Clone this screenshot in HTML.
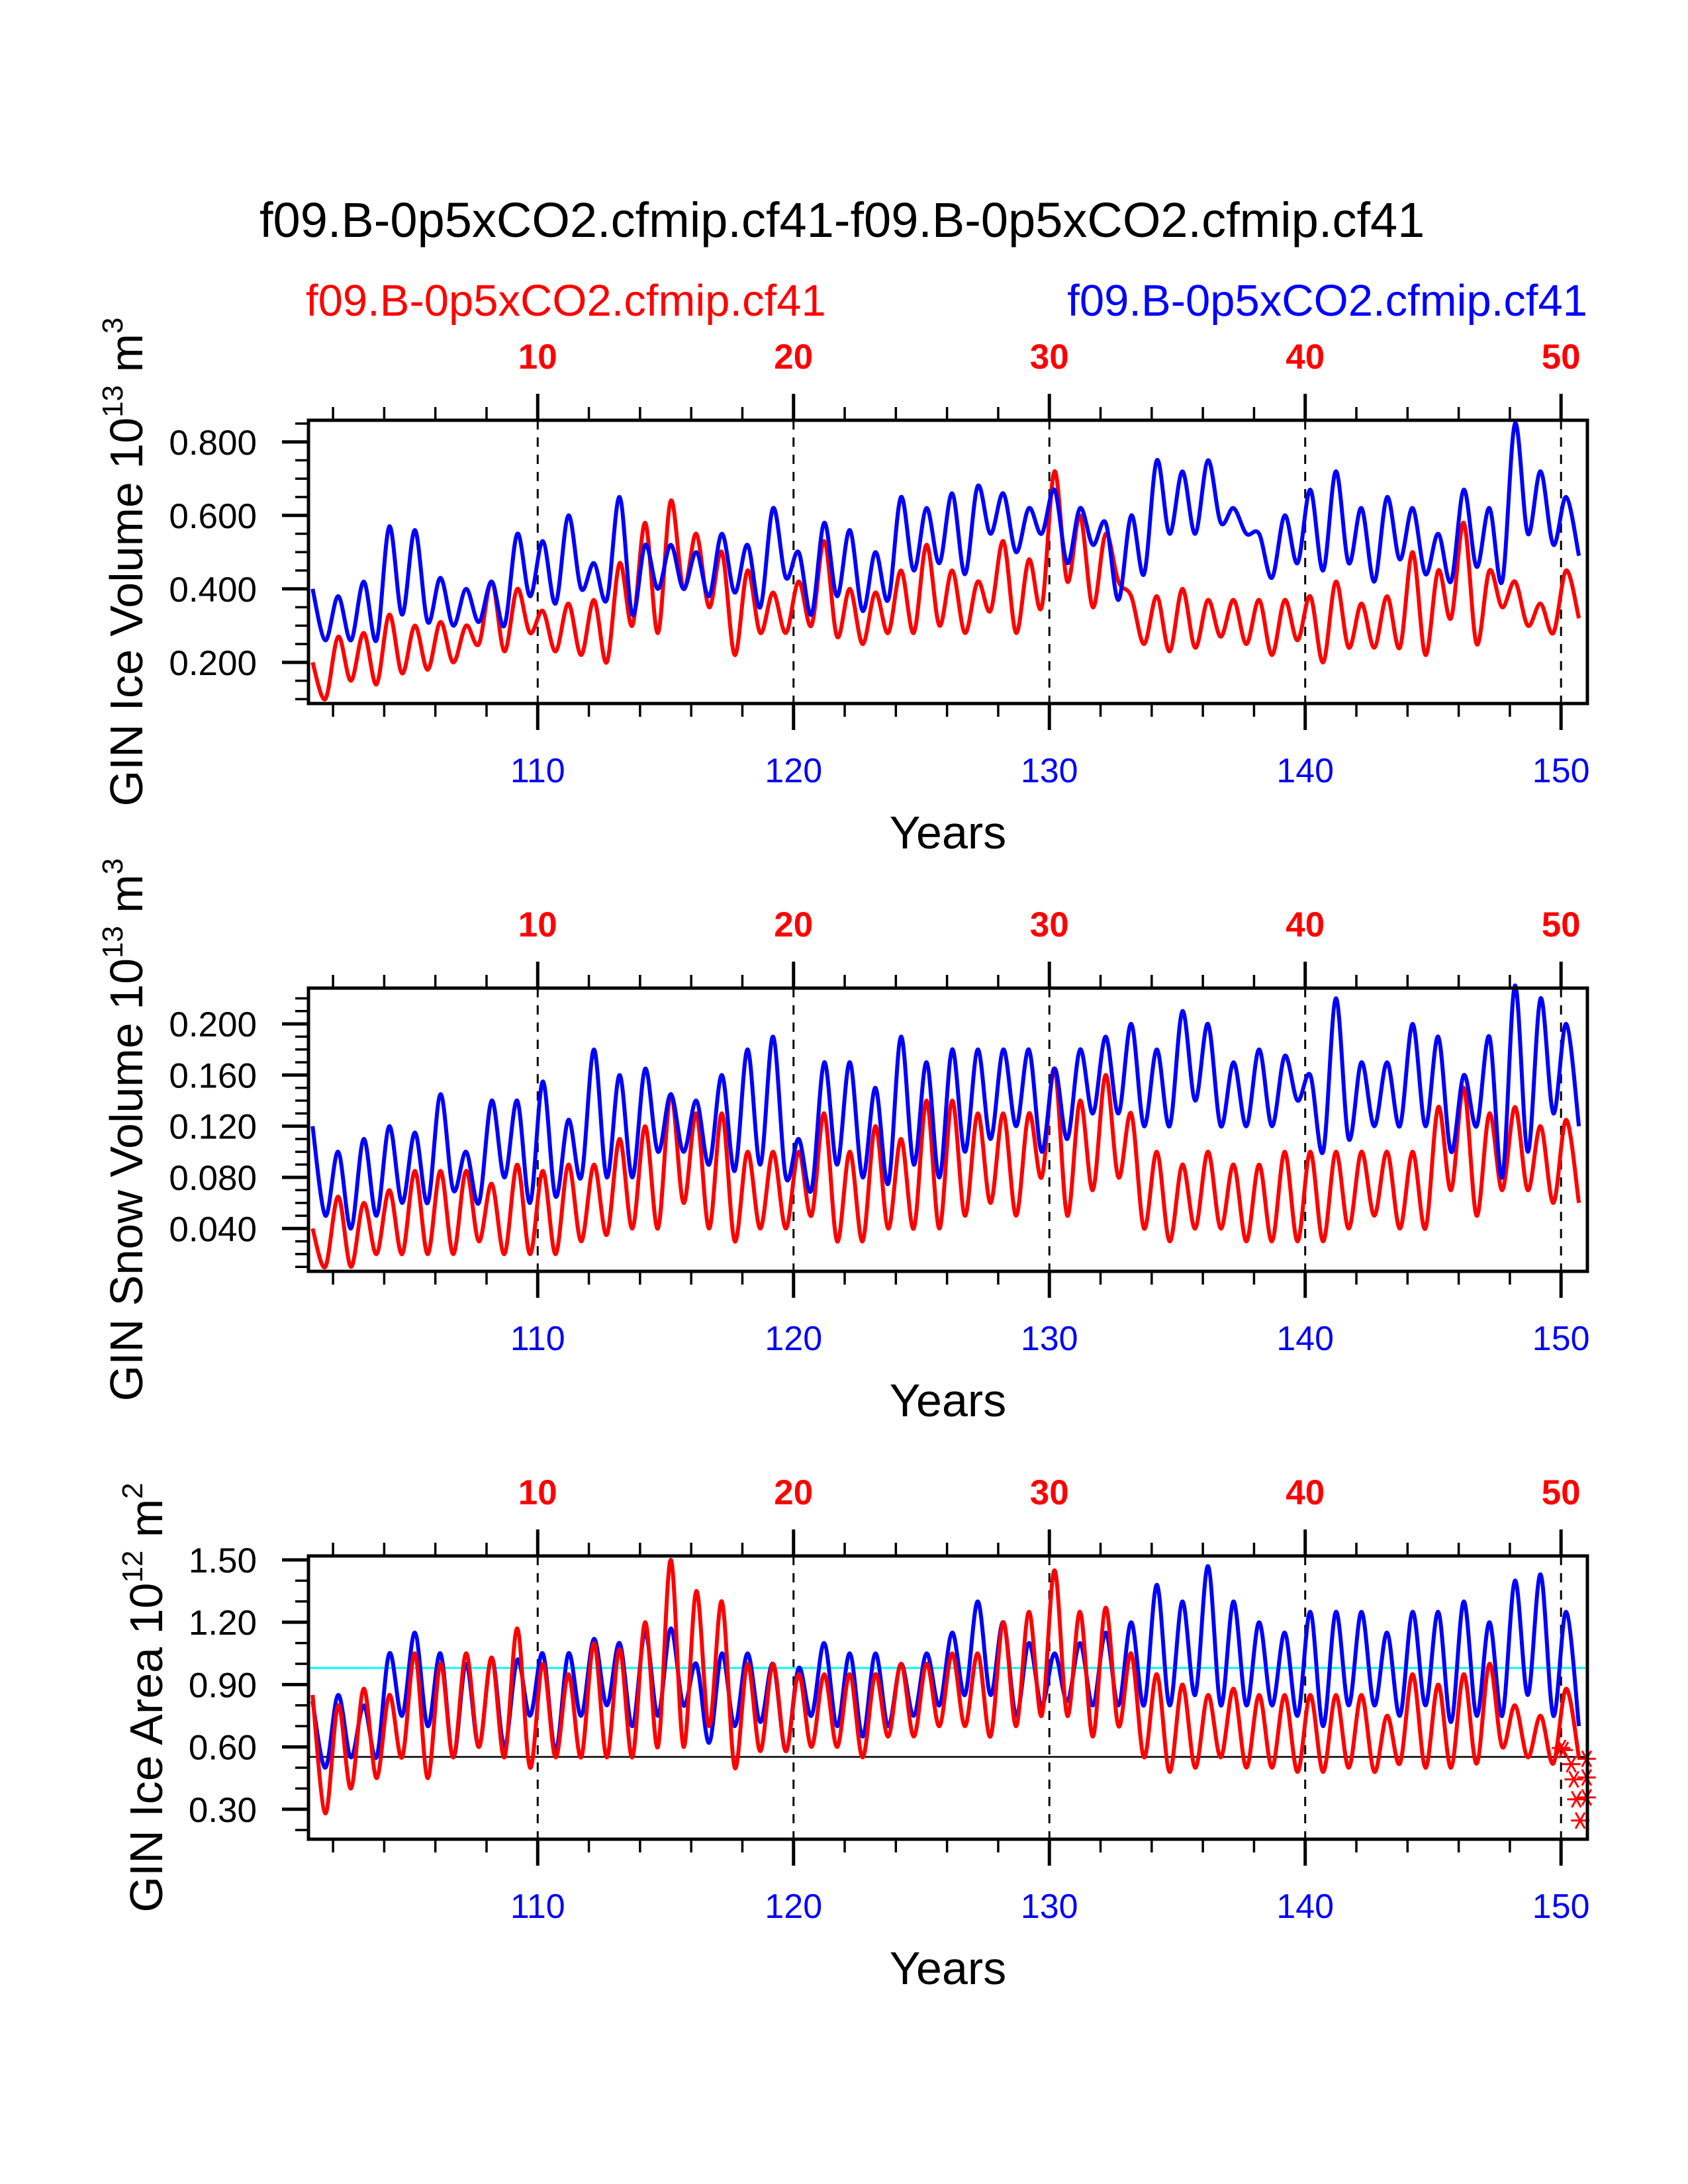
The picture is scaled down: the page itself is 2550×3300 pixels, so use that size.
<!DOCTYPE html>
<html><head><meta charset="utf-8"><style>
html,body{margin:0;padding:0;background:#fff;}
svg{display:block;font-family:"Liberation Sans",Arial,sans-serif;}
</style></head><body>
<svg id="chart" width="2550" height="3300" viewBox="0 0 2550 3300" xmlns="http://www.w3.org/2000/svg">
<rect width="2550" height="3300" fill="#fff"/>
<text x="392" y="358" font-size="74" fill="#000">f09.B-0p5xCO2.cfmip.cf41-f09.B-0p5xCO2.cfmip.cf41</text>
<text x="462" y="477" font-size="67" fill="#ff0000">f09.B-0p5xCO2.cfmip.cf41</text>
<text x="2398" y="477" font-size="67" fill="#0000ff" text-anchor="end">f09.B-0p5xCO2.cfmip.cf41</text>
<g id="plots"></g>
</svg>
<script>
// ---- data (yearly max / min), years 101..150 ----
const years = [];
for (let y = 101; y <= 150; y++) years.push(y);

const volBlueMax = [.40,.38,.42,.57,.56,.43,.40,.42,.55,.53,.60,.47,.65,.52,.52,.50,.55,.52,.62,.50,.58,.56,.50,.65,.62,.66,.68,.66,.62,.67,.62,.58,.60,.75,.72,.75,.62,.55,.60,.67,.72,.62,.65,.62,.55,.67,.62,.85,.72,.65];
const volBlueMin = [.26,.26,.26,.33,.31,.30,.31,.30,.38,.36,.40,.37,.33,.40,.40,.38,.39,.35,.43,.33,.38,.34,.37,.45,.47,.44,.55,.50,.55,.47,.52,.37,.44,.55,.55,.58,.55,.43,.47,.45,.47,.42,.48,.44,.42,.46,.42,.55,.52,.49];
const volRedMax = [.20,.27,.28,.33,.30,.31,.30,.42,.40,.34,.36,.37,.47,.58,.64,.55,.50,.45,.39,.42,.53,.40,.39,.45,.52,.45,.42,.53,.48,.72,.60,.55,.38,.38,.40,.37,.37,.37,.37,.38,.42,.36,.38,.50,.45,.58,.45,.42,.36,.45];
const volRedMin = [.10,.15,.14,.17,.18,.20,.25,.23,.28,.23,.22,.20,.30,.28,.40,.35,.22,.28,.28,.30,.27,.25,.28,.28,.30,.28,.34,.28,.35,.42,.35,.42,.25,.23,.24,.27,.25,.22,.26,.20,.24,.24,.24,.22,.32,.25,.35,.30,.28,.32];

const snowBlueMax = [.12,.10,.11,.12,.115,.145,.10,.14,.14,.155,.125,.18,.16,.165,.145,.14,.16,.18,.19,.11,.17,.17,.15,.19,.17,.18,.18,.18,.18,.165,.18,.19,.20,.18,.21,.20,.17,.18,.175,.16,.22,.17,.17,.20,.19,.16,.19,.23,.22,.20];
const snowBlueMin = [.05,.04,.05,.06,.06,.07,.06,.08,.06,.065,.08,.08,.08,.10,.10,.09,.085,.09,.08,.07,.09,.08,.075,.09,.08,.10,.11,.12,.10,.11,.13,.13,.12,.12,.14,.12,.12,.12,.14,.10,.11,.12,.12,.12,.10,.12,.08,.10,.13,.12];
const snowRedMax = [.04,.065,.06,.07,.085,.085,.085,.075,.09,.085,.09,.09,.11,.12,.145,.13,.13,.10,.10,.10,.13,.10,.12,.11,.14,.14,.13,.13,.13,.165,.14,.16,.13,.10,.09,.10,.09,.09,.10,.10,.10,.10,.10,.10,.135,.15,.13,.135,.12,.125];
const snowRedMin = [.01,.01,.02,.02,.02,.02,.03,.02,.02,.02,.03,.035,.04,.04,.06,.04,.03,.04,.04,.05,.03,.03,.04,.04,.04,.05,.06,.05,.08,.05,.07,.08,.04,.03,.04,.04,.03,.03,.03,.03,.04,.05,.04,.04,.07,.05,.07,.07,.06,.06];

const areaBlueMax = [.82,.85,.80,1.05,1.15,1.05,1.00,1.03,1.02,1.05,1.05,1.12,1.10,1.15,1.17,1.00,1.05,1.05,1.00,.98,1.10,1.05,1.05,1.00,1.05,1.15,1.30,1.20,1.10,1.05,1.10,1.15,1.20,1.38,1.30,1.47,1.30,1.20,1.15,1.25,1.25,1.25,1.15,1.25,1.25,1.30,1.20,1.40,1.43,1.25];
const areaBlueMin = [.50,.55,.55,.75,.70,.55,.60,.60,.75,.58,.75,.80,.70,.75,.80,.62,.70,.72,.58,.75,.70,.65,.70,.75,.80,.85,.85,.75,.80,.82,.80,.80,.80,.80,.85,.80,.80,.80,.75,.70,.80,.80,.75,.80,.72,.75,.75,.85,.75,.70];
const areaRedMax = [.85,.80,.88,.85,1.05,1.00,1.05,1.03,1.17,1.00,.95,1.10,1.07,1.20,1.50,1.35,1.30,1.00,1.00,.95,.95,.95,.95,1.00,1.00,1.05,1.05,1.20,1.25,1.45,1.25,1.27,1.05,.95,.90,.85,.88,.85,.85,.85,.85,.85,.75,.95,.90,.95,1.00,.80,.75,.88];
const areaRedMin = [.28,.40,.45,.55,.45,.55,.60,.55,.50,.55,.55,.55,.55,.60,.60,.70,.50,.58,.58,.60,.60,.55,.65,.65,.70,.70,.65,.70,.75,.75,.65,.70,.55,.48,.50,.55,.50,.50,.48,.48,.50,.48,.52,.50,.50,.52,.60,.55,.52,.55];

const areaCyanRef = 0.98;
const areaBlackRef = 0.552;
const starYears = [150.0,150.1,150.4,150.5,150.6,150.75,151.0,151.0,151.0];
const starValues = [0.595,0.585,0.517,0.444,0.348,0.246,0.543,0.453,0.357];

const topTickLabels = ["10","20","30","40","50"];
const bottomTickLabels = ["110","120","130","140","150"];
const majorYears = [110,120,130,140,150];

// ---- layout ----
const X0 = 466, X1 = 2398, XMIN = 101.04, XMAX = 151.03;
const xs = v => X0 + (v - XMIN) / (XMAX - XMIN) * (X1 - X0);
const NS = "http://www.w3.org/2000/svg";
const root = document.getElementById('plots');
function mk(tag, attrs, parent) {
  const e = document.createElementNS(NS, tag);
  for (const k in attrs) e.setAttribute(k, attrs[k]);
  (parent || root).appendChild(e);
  return e;
}
function smoothPath(pts) {
  let d = `M${pts[0][0].toFixed(1)},${pts[0][1].toFixed(1)}`;
  for (let i = 0; i < pts.length - 1; i++) {
    const p0 = pts[i - 1] || pts[i], p1 = pts[i], p2 = pts[i + 1], p3 = pts[i + 2] || p2;
    const c1x = p1[0] + (p2[0] - p0[0]) / 6, c1y = p1[1] + (p2[1] - p0[1]) / 6;
    const c2x = p2[0] - (p3[0] - p1[0]) / 6, c2y = p2[1] - (p3[1] - p1[1]) / 6;
    d += `C${c1x.toFixed(1)},${c1y.toFixed(1)} ${c2x.toFixed(1)},${c2y.toFixed(1)} ${p2[0].toFixed(1)},${p2[1].toFixed(1)}`;
  }
  return d;
}

const panels = [
  {name:'ice-volume', top:635, vmin:0.088, vmax:0.859, ticks:[0.2,0.4,0.6,0.8], labels:["0.200","0.400","0.600","0.800"], minorStep:0.05,
   title:'GIN Ice Volume 10', sup:'13', unit:' m', unitSup:'3', titleX:215,
   series:[[volRedMax,volRedMin,'#ff0000','red'],[volBlueMax,volBlueMin,'#0000ff','blue']]},
  {name:'snow-volume', top:1493, vmin:0.0065, vmax:0.228, ticks:[0.04,0.08,0.12,0.16,0.2], labels:["0.040","0.080","0.120","0.160","0.200"], minorStep:0.01,
   title:'GIN Snow Volume 10', sup:'13', unit:' m', unitSup:'3', titleX:215,
   series:[[snowRedMax,snowRedMin,'#ff0000','red'],[snowBlueMax,snowBlueMin,'#0000ff','blue']]},
  {name:'ice-area', top:2351, vmin:0.156, vmax:1.519, ticks:[0.3,0.6,0.9,1.2,1.5], labels:["0.30","0.60","0.90","1.20","1.50"], minorStep:0.1,
   title:'GIN Ice Area 10', sup:'12', unit:' m', unitSup:'2', titleX:245,
   series:[[areaBlueMax,areaBlueMin,'#0000ff','blue'],[areaRedMax,areaRedMin,'#ff0000','red']]}
];
const H = 428;

panels.forEach((p, pi) => {
  const Y0 = p.top, Y1 = p.top + H;
  const ys = v => Y1 - (v - p.vmin) / (p.vmax - p.vmin) * H;
  const g = mk('g', {});
  
  

  majorYears.forEach(yr => {
    const l = mk('line', {x1:xs(yr), x2:xs(yr), y1:Y0, y2:Y1, stroke:'#000', 'stroke-width':3, 'stroke-dasharray':'14 12'}, g);
    
    
  });

  if (pi === 2) {
    const c = mk('line', {x1:X0, x2:X1, y1:ys(areaCyanRef), y2:ys(areaCyanRef), stroke:'#00ffff', 'stroke-width':3}, g);
    
    
    const b = mk('line', {x1:X0, x2:X1, y1:ys(areaBlackRef), y2:ys(areaBlackRef), stroke:'#000', 'stroke-width':2.5}, g);
    
    
  }

  p.series.forEach(([mx, mn, col, nm]) => {
    const pts = [];
    years.forEach((yr, i) => {
      pts.push([xs(yr + 0.2), ys(mx[i])]);
      pts.push([xs(yr + 0.7), ys(mn[i])]);
    });
    const path = mk('path', {d:smoothPath(pts), fill:'none', stroke:col, 'stroke-width':6, 'stroke-linejoin':'round'}, g);
    
    
  });

  if (pi === 2) {
    starYears.forEach((yr, i) => {
      const cx = xs(yr), cy = ys(starValues[i]), r = 14;
      const s = mk('g', {stroke:'#ff0000', 'stroke-width':3}, g);
      
      
      [0,60,120].forEach(a => {
        const t = a * Math.PI / 180;
        mk('line', {x1:cx - r*Math.cos(t), y1:cy - r*Math.sin(t), x2:cx + r*Math.cos(t), y2:cy + r*Math.sin(t)}, s);
      });
    });
  }

  const fr = mk('rect', {x:X0, y:Y0, width:X1-X0, height:H, fill:'none', stroke:'#000', 'stroke-width':5}, g);
  
  

  for (let yr = 102; yr <= 150; yr += 2) {
    const major = yr % 10 === 0;
    const len = major ? 40 : 20;
    mk('line', {x1:xs(yr), x2:xs(yr), y1:Y0, y2:Y0-len, stroke:'#000', 'stroke-width':major?5:3.5}, g);
    mk('line', {x1:xs(yr), x2:xs(yr), y1:Y1, y2:Y1+len, stroke:'#000', 'stroke-width':major?5:3.5}, g);
  }
  majorYears.forEach((yr, i) => {
    const t = mk('text', {x:xs(yr), y:Y0-78, 'font-size':53, 'font-weight':'bold', fill:'#ff0000', 'text-anchor':'middle'}, g);
    t.textContent = topTickLabels[i];
    
    
    const b = mk('text', {x:xs(yr), y:Y1+119, 'font-size':52, fill:'#0000ff', 'text-anchor':'middle'}, g);
    b.textContent = bottomTickLabels[i];
    
    
  });
  const xt = mk('text', {x:1432, y:Y1+219, 'font-size':70, fill:'#000', 'text-anchor':'middle'}, g);
  xt.textContent = 'Years';
  
  

  const start = Math.ceil(p.vmin / p.minorStep - 1e-6);
  for (let k = start; k * p.minorStep <= p.vmax + 1e-9; k++) {
    const v = k * p.minorStep;
    const major = p.ticks.some(t => Math.abs(t - v) < 1e-6);
    mk('line', {x1:X0, x2:X0 - (major?40:20), y1:ys(v), y2:ys(v), stroke:'#000', 'stroke-width':major?5:3.5}, g);
  }
  p.ticks.forEach((v, i) => {
    const t = mk('text', {x:388, y:ys(v)+19, 'font-size':53, fill:'#000', 'text-anchor':'end'}, g);
    t.textContent = p.labels[i];
    
    
  });

  const cy = Y0 + H/2;
  const yt = mk('text', {x:0, y:0, 'font-size':70, fill:'#000', 'text-anchor':'middle', transform:`translate(${p.titleX},${cy}) rotate(-90)`}, g);
  
  
  const s1 = mk('tspan', {}, yt); s1.textContent = p.title;
  const s2 = mk('tspan', {dy:-30, 'font-size':44}, yt); s2.textContent = p.sup;
  const s3 = mk('tspan', {dy:30}, yt); s3.textContent = p.unit;
  const s4 = mk('tspan', {dy:-30, 'font-size':44}, yt); s4.textContent = p.unitSup;
});
</script>
</body></html>
